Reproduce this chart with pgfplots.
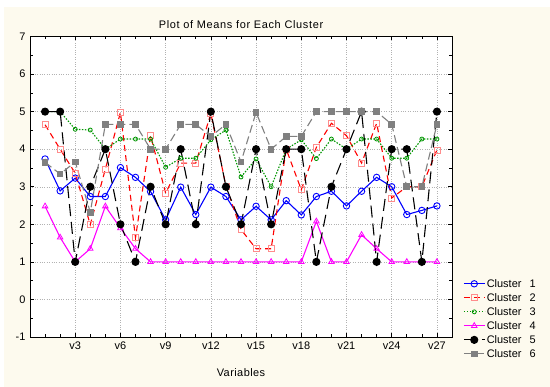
\documentclass[border=0pt]{standalone}
\usepackage{fontspec}
\setmainfont{Liberation Sans}
\usepackage{pgfplots}
\usepackage{pgfplotstable}
\pgfplotsset{compat=1.18}
\definecolor{cream}{RGB}{253,250,238}
\definecolor{cblue}{RGB}{0,0,255}
\definecolor{cred}{RGB}{255,0,0}
\definecolor{cpink}{RGB}{255,140,140}
\definecolor{cgreen}{RGB}{0,150,0}
\definecolor{cmag}{RGB}{255,0,255}
\definecolor{cgray}{RGB}{128,128,128}
\pgfplotstableread{
x c1 c2 c3 c4 c5 c6
1 3.74 4.65 5.00 2.48 5 3.65
2 2.89 4.00 5.00 1.65 5 3.34
3 3.23 3.36 4.53 1.00 1 3.66
4 2.74 1.99 4.51 1.35 3 2.32
5 2.74 3.47 4.00 2.48 4 4.66
6 3.51 4.98 4.27 1.90 2 4.66
7 3.25 1.64 4.27 1.35 1 4.66
8 2.87 4.36 4.27 1.00 3 4.00
9 2.12 2.83 3.52 1.00 2 4.00
10 2.99 3.63 3.76 1.00 4 4.66
11 2.26 3.63 3.76 1.00 2 4.66
12 2.99 4.95 4.25 1.00 5 4.34
13 2.74 3.02 4.51 1.00 3 4.66
14 2.12 1.86 3.26 1.00 2 3.66
15 2.48 1.35 3.74 1.00 4 4.98
16 2.12 1.35 3.00 1.00 2 4.00
17 2.63 4.00 4.00 1.00 4 4.34
18 2.25 2.92 4.25 1.00 4 4.34
19 2.74 4.05 3.75 2.08 1 5.00
20 2.88 4.69 4.27 1.00 3 5.00
21 2.49 4.36 4.00 1.00 4 5.00
22 2.88 3.63 4.27 1.72 5 5.00
23 3.25 4.69 4.27 1.35 1 5.00
24 3.00 2.70 3.76 1.00 4 4.66
25 2.26 3.00 3.76 1.00 4 3.00
26 2.37 3.00 4.27 1.00 1 3.00
27 2.49 3.98 4.27 1.00 5 4.66
}\datatable
\newcommand{\cl}[1]{Cluster\hspace{8bp}#1}
\begin{document}
\begin{tikzpicture}
\path[use as bounding box] (0,0) rectangle (550bp,387bp);
\fill[cream] (4bp,0) rectangle (550bp,380bp);
\begin{axis}[
  at={(30bp,50bp)}, anchor=south west,
  scale only axis, width=422bp, height=300.5bp,
  xmin=0, xmax=28, ymin=-1, ymax=7,
  axis background/.style={fill=white},
  xtick={3,6,...,27},
  xticklabels={v3,v6,v9,v12,v15,v18,v21,v24,v27},
  minor xtick={1,...,27},
  ytick={-1,0,...,7},
  minor ytick={-0.5,0.5,...,6.5},
  major tick length=4bp, minor tick length=3bp,
  tick style={black, line width=0.6pt},
  xmajorgrids, ymajorgrids,
  major grid style={gray!60, dotted, line width=0.5pt},
  axis line style={line width=0.8pt},
  /pgf/number format/assume math mode=true,
  tick label style={font=\fontsize{11}{13}\selectfont},
  every tick label/.append style={font=\fontsize{11}{13}\selectfont},
  xticklabel style={yshift=-1bp},
  yticklabel style={xshift=-1bp},
  title={\addfontfeature{LetterSpace=6}Plot of Means for Each Cluster},
  title style={font=\fontsize{11}{13}\selectfont, yshift=-2bp},
  xlabel={\addfontfeature{LetterSpace=4}Variables},
  xlabel style={font=\fontsize{11}{13}\selectfont, yshift=-12bp},
  legend style={at={(axis description cs:1.019,0.205)}, anchor=north west,
     draw=none, fill=none, font=\fontsize{11}{13}\selectfont,
     row sep=1.6pt, nodes={inner sep=1.5pt}},
  legend cell align=left,
  legend image code/.code={\draw[mark repeat=2,mark phase=2] plot coordinates {(0bp,0bp)(10.5bp,0bp)(21bp,0bp)};},
]
\addplot[cblue, line width=1.1pt, mark=o, mark size=3.2bp, mark options={solid, fill=white, line width=0.9pt}] table[x=x,y=c1] {\datatable};
\addlegendentry{\cl{1}}
\addplot[cred, line width=1.1pt, dash pattern=on 6bp off 4bp, mark=square, mark size=3bp, mark options={solid, draw=cpink, fill=white, line width=0.8pt}] table[x=x,y=c2] {\datatable};
\addlegendentry{\cl{2}}
\addplot[cgreen, line width=1.1pt, dash pattern=on 1.5bp off 1.5bp, mark=o, mark size=2bp, mark options={solid, fill=white, line width=0.8pt}] table[x=x,y=c3] {\datatable};
\addlegendentry{\cl{3}}
\addplot[cmag, line width=1.1pt, mark=triangle, mark size=3.2bp, mark options={solid, fill=white, line width=0.8pt}] table[x=x,y=c4] {\datatable};
\addlegendentry{\cl{4}}
\addplot[black, line width=1.1pt, dash pattern=on 12bp off 6bp, mark=*, mark size=3.5bp, mark options={solid}] table[x=x,y=c5] {\datatable};
\addlegendentry{\cl{5}}
\addplot[cgray, line width=1.1pt, dash pattern=on 8bp off 4bp, mark=square*, mark size=2.8bp, mark options={solid, fill=cgray}] table[x=x,y=c6] {\datatable};
\addlegendentry{\cl{6}}
\end{axis}
\end{tikzpicture}
\end{document}
